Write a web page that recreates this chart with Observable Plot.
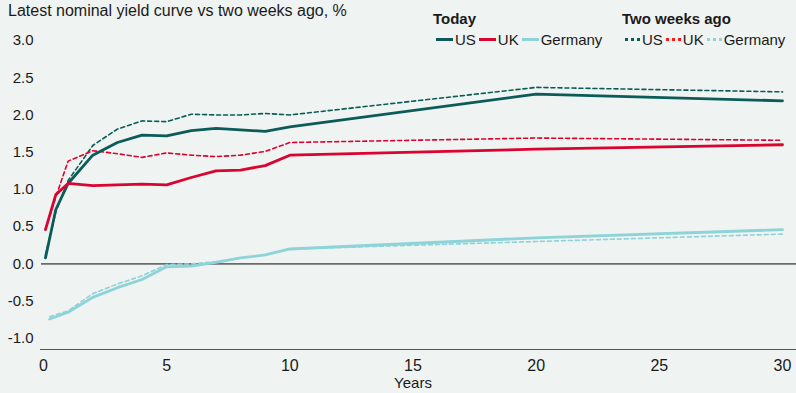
<!DOCTYPE html>
<html>
<head>
<meta charset="utf-8">
<script src="https://cdn.jsdelivr.net/npm/d3@7"></script>
<script src="https://cdn.jsdelivr.net/npm/@observablehq/plot@0.6"></script>
<style>
  html, body { margin: 0; padding: 0; background: #eff3f2; }
  #wrap { position: relative; width: 796px; height: 393px; background: #eff3f2; font-family: "Liberation Sans", Arial, sans-serif; color: #1a1a1a; }
  #title { position: absolute; left: 8px; top: 2px; font-size: 16px; }
  .lg { position: absolute; font-size: 15px; }
  .lg .hd { font-weight: bold; margin-bottom: 4px; }
  .lg .row { display: flex; align-items: center; white-space: nowrap; }
  .sw { display: inline-block; width: 17px; height: 0; margin-right: 2px; margin-left: 3px; }
  #chart { position: absolute; left: 0; top: 0; }
</style>
</head>
<body>
<div id="wrap">
  <div id="chart"></div>
  <div id="title">Latest nominal yield curve vs two weeks ago, %</div>
  <div id="lgToday" class="lg" style="left:433px; top:10px;"></div>
  <div id="lgAgo" class="lg" style="left:622px; top:10px;"></div>
</div>
<script>
// Maturities (years)
const maturities = [0.08, 0.5, 1, 2, 3, 4, 5, 6, 7, 8, 9, 10, 20, 30];
const maturitiesDE = [0.25, 1, 2, 3, 4, 5, 6, 7, 8, 9, 10, 20, 30];

// Today
const usToday = [0.08, 0.73, 1.08, 1.46, 1.63, 1.73, 1.72, 1.79, 1.82, 1.80, 1.78, 1.84, 2.28, 2.19];
const ukToday = [0.46, 0.93, 1.08, 1.05, 1.06, 1.07, 1.06, 1.16, 1.25, 1.26, 1.32, 1.46, 1.54, 1.60];
const deToday = [-0.74, -0.65, -0.45, -0.32, -0.21, -0.04, -0.03, 0.02, 0.08, 0.12, 0.20, 0.35, 0.46];

// Two weeks ago
const usAgo = [0.12, 0.70, 1.12, 1.59, 1.81, 1.92, 1.91, 2.01, 2.00, 2.00, 2.02, 2.00, 2.37, 2.31];
const ukAgo = [0.47, 0.90, 1.38, 1.52, 1.48, 1.43, 1.49, 1.46, 1.44, 1.46, 1.51, 1.63, 1.69, 1.66];
const deAgo = [-0.71, -0.63, -0.40, -0.27, -0.16, -0.01, 0.00, 0.03, 0.08, 0.12, 0.20, 0.30, 0.40];

const countries = ["US", "UK", "Germany"];
const colors = { US: "#0b5c58", UK: "#d9042f", Germany: "#8dd3d8" };
const legendColorsAgo = { US: "#0b5c58", UK: "#ff1a1a", Germany: "#8dd3d8" };

const yTicks = [-1.0, -0.5, 0.0, 0.5, 1.0, 1.5, 2.0, 2.5, 3.0];
const xTicks = [0, 5, 10, 15, 20, 25, 30];
const yMin = -1.15;

const rows = [];
function add(xs, ys, country, period) {
  xs.forEach((x, i) => rows.push({ years: x, value: ys[i], country, period }));
}
add(maturities, usToday, "US", "Today");
add(maturities, ukToday, "UK", "Today");
add(maturitiesDE, deToday, "Germany", "Today");
add(maturities, usAgo, "US", "Ago");
add(maturities, ukAgo, "UK", "Ago");
add(maturitiesDE, deAgo, "Germany", "Ago");

const narrow = "Liberation Sans Narrow, Arial Narrow, sans-serif";

const chart = Plot.plot({
  width: 796,
  height: 393,
  marginLeft: 43,
  marginRight: 14,
  marginTop: 40,
  marginBottom: 44,
  style: { background: "transparent", fontFamily: "Liberation Sans, Arial, sans-serif", fontSize: "15px", color: "#1a1a1a" },
  x: { domain: [0, 30] },
  y: { domain: [yMin, 3.0] },
  marks: [
    Plot.ruleY([0], { stroke: "#6b6b6b", strokeWidth: 1.6, insetLeft: -2, insetRight: -14 }),
    Plot.ruleY([yMin], { stroke: "#555", strokeWidth: 1.2, insetLeft: -3, insetRight: -14 }),
    Plot.axisY({ ticks: yTicks, tickSize: 0, tickPadding: 10, tickFormat: d => d.toFixed(1), label: null, fontSize: 15 }),
    Plot.axisX({ ticks: xTicks, tickSize: 0, tickPadding: 10, label: null, fontSize: 16, fontFamily: narrow }),
    Plot.text(["Years"], { frameAnchor: "bottom", lineAnchor: "middle", dy: 34, fontSize: 15, fontFamily: narrow, fill: "#1a1a1a" }),
    ...countries.map(c => Plot.line(rows.filter(r => r.country === c && r.period === "Ago"), {
      x: "years", y: "value", stroke: colors[c], strokeWidth: 1.6, strokeDasharray: "4,3"
    })),
    ...countries.map(c => Plot.line(rows.filter(r => r.country === c && r.period === "Today"), {
      x: "years", y: "value", stroke: colors[c], strokeWidth: 2.8
    }))
  ]
});
document.getElementById("chart").appendChild(chart);

function legend(el, title, cmap, dotted) {
  const hd = document.createElement("div");
  hd.className = "hd";
  hd.textContent = title;
  el.appendChild(hd);
  const row = document.createElement("div");
  row.className = "row";
  countries.forEach(c => {
    const sw = document.createElement("span");
    sw.className = "sw";
    sw.style.borderTop = dotted ? `3px dotted ${cmap[c]}` : `3px solid ${cmap[c]}`;
    if (dotted) sw.style.width = "15px";
    row.appendChild(sw);
    const t = document.createElement("span");
    t.textContent = c;
    row.appendChild(t);
  });
  el.appendChild(row);
}
legend(document.getElementById("lgToday"), "Today", colors, false);
legend(document.getElementById("lgAgo"), "Two weeks ago", legendColorsAgo, true);
</script>
</body>
</html>
